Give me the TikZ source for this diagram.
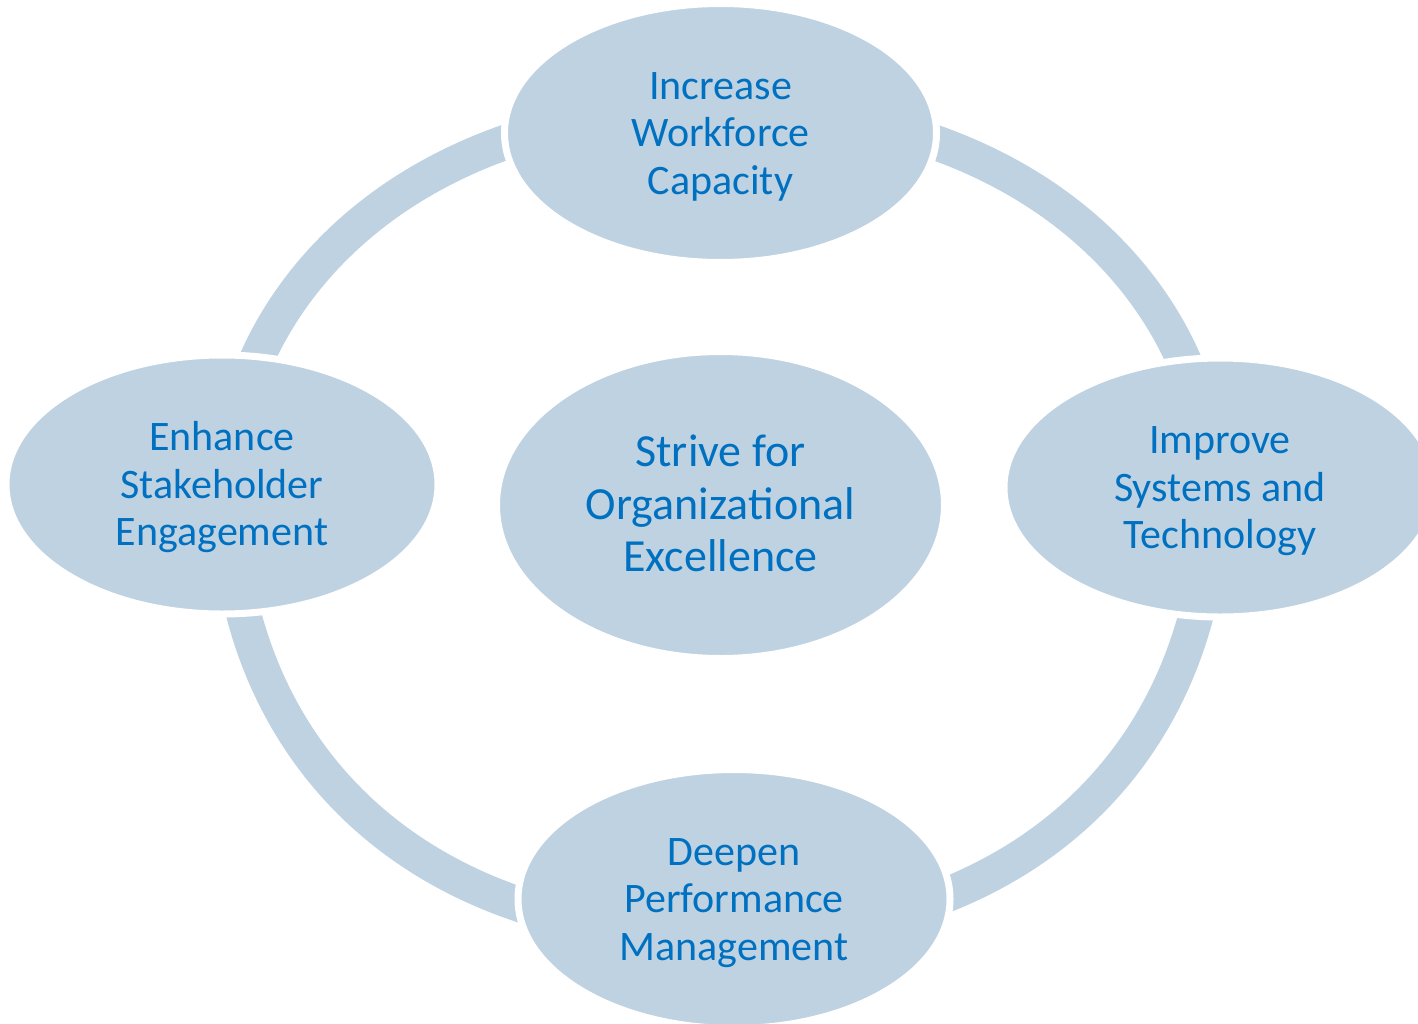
\documentclass[tikz,border=0pt]{standalone}
\usepackage{fontspec}
\setmainfont{Carlito}
\usetikzlibrary{shapes.geometric}
\definecolor{ringfill}{RGB}{191,210,226}
\definecolor{txtblue}{RGB}{0,112,192}
\begin{document}
\begin{tikzpicture}[x=0.5pt,y=-0.5pt,
  bubble/.style={ellipse, fill=ringfill, draw=white, line width=3.5pt,
    inner sep=0pt, minimum width=216pt, minimum height=129.5pt},
  hub/.style={bubble, minimum width=224pt, minimum height=153.5pt},
  bubbletext/.style={text=txtblue, align=center, inner sep=0pt,
    font=\fontsize{21}{23.75}\selectfont},
  hubtext/.style={bubbletext, font=\fontsize{23}{26.1}\selectfont},
  ringline/.style={draw=ringfill, line width=17.5pt}]
\clip (0,0) rectangle (1418,1023);
\coordinate (rT) at (720,108);
\coordinate (rL) at (228,490);
\coordinate (rB) at (720,935);
\coordinate (rR) at (1212,490);
\draw[ringline] (rT) .. controls +(-328,0) and +(0,-179) .. (rL)
  .. controls +(0,240) and +(-328,0) .. (rB)
  .. controls +(328,0) and +(0,240) .. (rR)
  .. controls +(0,-179) and +(328,0) .. (rT) -- cycle;
\node[bubble] (top) at (720.5,133) {};
\node[bubble] (left) at (222,484.5) {};
\node[bubble] (right) at (1220,487.5) {};
\node[bubble] (bottom) at (734,899) {};
\node[hub] (hub) at (720.5,505) {};
\node[bubbletext] (topText) at ([yshift=-1.75pt]top.center) {Increase\\Workforce\\Capacity};
\node[bubbletext] (leftText) at ([yshift=-1.5pt]left.center) {Enhance\\Stakeholder\\Engagement};
\node[bubbletext] (rightText) at ([yshift=-2pt]right.center) {Improve\\Systems and\\Technology};
\node[bubbletext] (bottomText) at ([yshift=-2pt]bottom.center) {Deepen\\Performance\\Management};
\node[hubtext] (hubText) at ([yshift=0.75pt]hub.center) {Strive for\\Organizational\\Excellence};
\end{tikzpicture}
\end{document}
